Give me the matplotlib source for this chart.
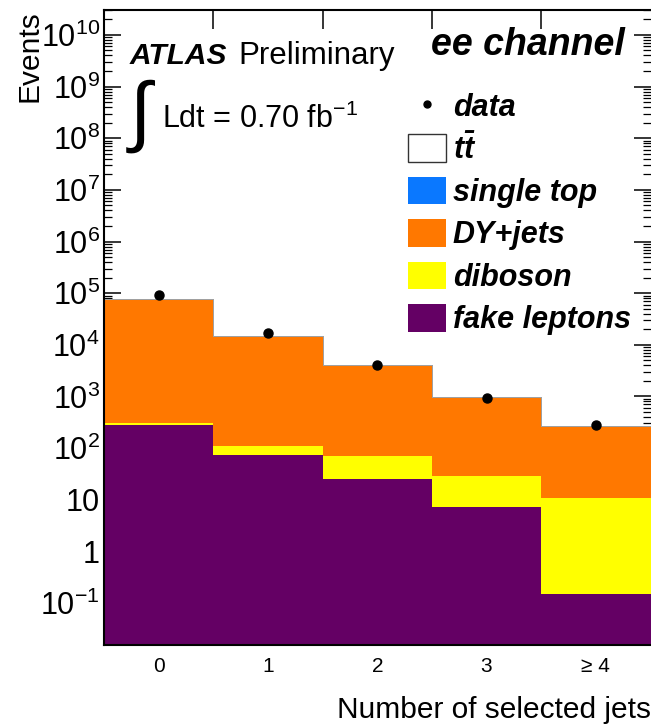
import numpy as np
import matplotlib
matplotlib.use("Agg")
import matplotlib.pyplot as plt
from matplotlib.patches import Patch
from matplotlib.lines import Line2D
from matplotlib.ticker import FixedLocator, FixedFormatter, LogLocator, NullFormatter

plt.rcParams['font.family'] = ['Liberation Sans', 'DejaVu Sans']
plt.rcParams['mathtext.fontset'] = 'custom'
plt.rcParams['mathtext.rm'] = 'Liberation Sans'
plt.rcParams['mathtext.it'] = 'Liberation Sans:italic'
plt.rcParams['mathtext.bf'] = 'Liberation Sans:bold'
plt.rcParams['mathtext.bfit'] = 'Liberation Sans:italic:bold'

# Event yields per jet-multiplicity bin
jet_bins = ['0', '1', '2', '3', '≥ 4']
fake_leptons = [280, 73, 25.5, 7.3, 0.147]
diboson = [22, 38, 44.5, 21.5, 10.9]
dy_jets = [75696, 14882, 3916, 925, 256]
single_top = [1.0, 4.0, 6.0, 4.0, 2.0]
ttbar = [1.0, 3.0, 8.0, 4.0, 3.0]
data = [9.2e4, 1.69e4, 4000, 950, 278]

decade_exponents = list(range(-1, 11))
decade_labels = [r'$10^{-1}$', '1', '10'] + [rf'$10^{{{k}}}$' for k in range(2, 11)]

C_FAKE = '#640064'
C_DIB = '#ffff00'
C_DY = '#ff7800'
C_ST = '#0a78ff'

W, H = 651, 726
fig = plt.figure(figsize=(W / 100, H / 100), dpi=100)


def px(x, y):
    return (x / W, 1 - y / H)


ax = fig.add_axes([104 / W, 1 - 645 / H, (650.5 - 104) / W, (645 - 10) / H])

edges = np.arange(len(jet_bins) + 1) - 0.5
layers = [
    (fake_leptons, C_FAKE),
    (diboson, C_DIB),
    (dy_jets, C_DY),
    (single_top, C_ST),
]
base = np.full(len(jet_bins), 1e-3)
for vals, col in layers:
    top = base + np.asarray(vals, dtype=float)
    ax.stairs(top, edges, baseline=base, fill=True, facecolor=col,
              edgecolor='none', lw=0, zorder=2)
    base = top
top = base + np.asarray(ttbar, dtype=float)
ax.stairs(top, edges, baseline=base, fill=True, facecolor='white',
          edgecolor='#a0a0a0', lw=0.7, zorder=2)

ax.plot(np.arange(len(jet_bins)), data, 'o', color='black', ms=6.5, zorder=5)

ax.set_xlim(edges[0], edges[-1])
ax.set_yscale('log')
ax.set_ylim(0.0154, 3.04e10)

# x axis: labels at bin centres, tick marks at bin edges
ax.xaxis.set_major_locator(FixedLocator(np.arange(len(jet_bins))))
ax.xaxis.set_major_formatter(FixedFormatter(jet_bins))
ax.xaxis.set_minor_locator(FixedLocator(edges[1:-1]))
ax.tick_params(axis='x', which='major', length=0, pad=9, labelsize=15)
ax.tick_params(axis='x', which='minor', length=14, width=1.1,
               direction='in', top=True, bottom=True)

# y axis: decades labelled, 2..9 minor ticks
ax.yaxis.set_major_locator(FixedLocator([10.0 ** k for k in decade_exponents]))
ax.yaxis.set_major_formatter(FixedFormatter(decade_labels))
ax.yaxis.set_minor_locator(LogLocator(base=10, subs=np.arange(2, 10), numticks=100))
ax.yaxis.set_minor_formatter(NullFormatter())
ax.tick_params(axis='y', which='major', length=12, width=1.1, direction='in',
               left=True, right=True, pad=3, labelsize=22)
ax.tick_params(axis='y', which='minor', length=6, width=0.9, direction='in',
               left=True, right=True)

for s in ax.spines.values():
    s.set_linewidth(1.5)
ax.spines['right'].set_visible(False)

ax.set_xlabel('Number of selected jets', loc='right', fontsize=21.5, labelpad=14)
fig.text(*px(30, 10), 'Events', rotation=90, ha='center', va='top', fontsize=21.5)

fig.text(*px(130, 64), 'ATLAS', fontsize=21.5, fontweight='bold', style='italic',
         va='baseline')
fig.text(*px(238, 64), 'Preliminary', fontsize=22.5, va='baseline')
fig.text(*px(140, 116), '∫', fontsize=56, ha='center', va='center')
fig.text(*px(162, 128), r'Ldt = 0.70 fb$^{-1}$', fontsize=22, va='baseline')
fig.text(*px(625, 55), 'ee channel', fontsize=27, fontweight='bold', style='italic',
         ha='right', va='baseline')

handles = [
    Line2D([], [], marker='o', ls='none', color='black', ms=5),
    Patch(facecolor='white', edgecolor='#333333', lw=1),
    Patch(facecolor=C_ST, edgecolor='none'),
    Patch(facecolor=C_DY, edgecolor='none'),
    Patch(facecolor=C_DIB, edgecolor='none'),
    Patch(facecolor=C_FAKE, edgecolor='none'),
]
labels = ['data', r'$\mathbfit{t\bar{t}}$', 'single top', 'DY+jets', 'diboson', 'fake leptons']
fig.legend(handles, labels, loc='upper left', bbox_to_anchor=px(408, 91.5),
           bbox_transform=fig.transFigure, frameon=False, borderpad=0,
           borderaxespad=0, handlelength=1.24, handleheight=1.01,
           handletextpad=0.23, labelspacing=0.365,
           prop={'family': 'Liberation Sans', 'weight': 'bold', 'style': 'italic',
                 'size': 22})

fig.savefig('out.png', dpi=100)
